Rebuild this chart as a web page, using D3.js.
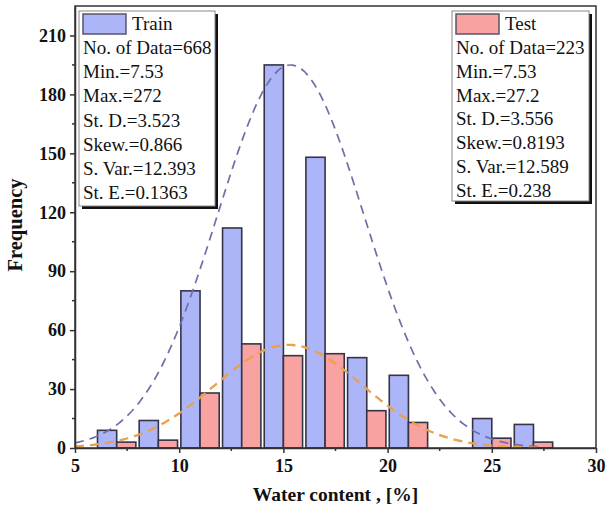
<!DOCTYPE html>
<html>
<head>
<meta charset="utf-8">
<script src="https://cdn.jsdelivr.net/npm/d3@7"></script>
<style>
  html, body { margin: 0; padding: 0; background: #fff; }
  svg { display: block; font-family: "Liberation Serif", "Times New Roman", serif; }
</style>
</head>
<body>
<svg id="chart" width="606" height="517"></svg>
<script>
// Histogram bins: centre of each 2 %-wide water-content bin
const binCenters = [7, 9, 11, 13, 15, 17, 19, 21, 23, 25, 27];
// Counts per bin
const trainCounts = [9, 14, 80, 112, 195, 148, 46, 37, 0, 15, 12];
const testCounts  = [3, 4, 28, 53, 47, 48, 19, 13, 0, 5, 3];

// Fitted normal curves (mean, standard deviation, peak height, x-range)
const trainFit = { mean: 15.35, sd: 3.523, peak: 195, from: 5, to: 27.2 };
const testFit  = { mean: 15.25, sd: 3.556, peak: 52.5, from: 5, to: 27.2 };

// Axis ticks
const xTicks = [5, 10, 15, 20, 25, 30];
const yTicks = [0, 30, 60, 90, 120, 150, 180, 210];

// Statistics boxes
const trainStats = ["No. of Data=668", "Min.=7.53", "Max.=272", "St. D.=3.523",
                    "Skew.=0.866", "S. Var.=12.393", "St. E.=0.1363"];
const testStats  = ["No. of Data=223", "Min.=7.53", "Max.=27.2", "St. D.=3.556",
                    "Skew.=0.8193", "S. Var.=12.589", "St. E.=0.238"];

const svg = d3.select("#chart");
const plotL = 75, plotR = 596, plotT = 6, plotB = 448;

const x = d3.scaleLinear().domain([5, 30]).range([plotL, plotR]);
const y = d3.scaleLinear().domain([0, 225]).range([plotB, plotT]);

const barW = 0.92;
const colors = {
  trainFill: "#acb5f8", testFill: "#f9a2a2", barStroke: "#343446",
  trainCurve: "#6c70a8", testCurve: "#eba04c", axis: "#333"
};

// Bars
const bars = svg.append("g");
binCenters.forEach((c, i) => {
  if (trainCounts[i] > 0) {
    bars.append("rect")
      .attr("x", x(c - barW)).attr("width", x(c) - x(c - barW))
      .attr("y", y(trainCounts[i])).attr("height", y(0) - y(trainCounts[i]))
      .attr("fill", colors.trainFill).attr("stroke", colors.barStroke).attr("stroke-width", 1.6);
  }
  if (testCounts[i] > 0) {
    bars.append("rect")
      .attr("x", x(c)).attr("width", x(c + barW) - x(c))
      .attr("y", y(testCounts[i])).attr("height", y(0) - y(testCounts[i]))
      .attr("fill", colors.testFill).attr("stroke", colors.barStroke).attr("stroke-width", 1.6);
  }
});

// Normal curves
function curvePoints(f) {
  const pts = [];
  const n = 200;
  for (let k = 0; k <= n; k++) {
    const v = f.from + (f.to - f.from) * k / n;
    pts.push([v, f.peak * Math.exp(-((v - f.mean) ** 2) / (2 * f.sd * f.sd))]);
  }
  return pts;
}
const line = d3.line().x(d => x(d[0])).y(d => y(d[1])).curve(d3.curveBasis);
svg.append("path").datum(curvePoints(trainFit)).attr("d", line)
  .attr("fill", "none").attr("stroke", colors.trainCurve).attr("stroke-width", 1.7)
  .attr("stroke-dasharray", "9,6");
svg.append("path").datum(curvePoints(testFit)).attr("d", line)
  .attr("fill", "none").attr("stroke", colors.testCurve).attr("stroke-width", 2.3)
  .attr("stroke-dasharray", "9,6");

// Frame
svg.append("rect").attr("x", plotL).attr("y", plotT)
  .attr("width", plotR - plotL).attr("height", plotB - plotT)
  .attr("fill", "none").attr("stroke", colors.axis).attr("stroke-width", 1.5);

// X axis
const xAxis = d3.axisBottom(x).tickValues(xTicks).tickSize(5).tickSizeOuter(0).tickPadding(6);
const gx = svg.append("g").attr("transform", `translate(0,${plotB})`).call(xAxis);
const xMinor = d3.range(7.5, 30, 5);
gx.selectAll(".minor").data(xMinor).enter().append("line")
  .attr("x1", d => x(d)).attr("x2", d => x(d)).attr("y1", 0).attr("y2", 3)
  .attr("stroke", colors.axis).attr("stroke-width", 1.5);

// Y axis
const yAxis = d3.axisLeft(y).tickValues(yTicks).tickSize(5).tickSizeOuter(0).tickPadding(4);
const gy = svg.append("g").attr("transform", `translate(${plotL},0)`).call(yAxis);
const yMinor = d3.range(15, 225, 30);
gy.selectAll(".minor").data(yMinor).enter().append("line")
  .attr("y1", d => y(d)).attr("y2", d => y(d)).attr("x1", 0).attr("x2", -3)
  .attr("stroke", colors.axis).attr("stroke-width", 1.5);

[gx, gy].forEach(g => {
  g.select(".domain").attr("stroke", colors.axis).attr("stroke-width", 1.5);
  g.selectAll(".tick line").attr("stroke", colors.axis).attr("stroke-width", 1.5);
  g.selectAll(".tick text")
    .attr("font-family", "Liberation Serif, serif")
    .attr("font-size", 18).attr("font-weight", "bold").attr("fill", "#111");
});

// Axis titles
svg.append("text").attr("x", (plotL + plotR) / 2).attr("y", 501)
  .attr("text-anchor", "middle").attr("font-size", 19.5).attr("font-weight", "bold")
  .attr("fill", "#111").text("Water content , [%]");
svg.append("text").attr("transform", `translate(22,${(plotT + plotB) / 2 - 2}) rotate(-90)`)
  .attr("text-anchor", "middle").attr("font-size", 20.5).attr("font-weight", "bold")
  .attr("fill", "#111").text("Frequency");

// Statistics boxes
function statsBox(bx, by, bw, bh, lineGap, label, fill, lines) {
  const g = svg.append("g");
  g.append("rect").attr("x", bx + 3).attr("y", by + 3).attr("width", bw).attr("height", bh)
    .attr("fill", "#111");
  g.append("rect").attr("x", bx).attr("y", by).attr("width", bw).attr("height", bh)
    .attr("fill", "#fff").attr("stroke", "#888").attr("stroke-width", 1);
  g.append("rect").attr("x", bx + 4).attr("y", by + 3).attr("width", 43).attr("height", 20)
    .attr("fill", fill).attr("stroke", "#55566a").attr("stroke-width", 1.5);
  g.append("text").attr("x", bx + 53).attr("y", by + 19).attr("font-size", 19)
    .attr("fill", "#111").text(label);
  g.selectAll(".stat").data(lines).enter().append("text")
    .attr("x", bx + 4).attr("y", (d, i) => by + 43 + i * lineGap)
    .attr("font-size", 19).attr("fill", "#111").text(d => d);
}
statsBox(79, 11, 136, 195, 24.2, "Train", colors.trainFill, trainStats);
statsBox(452, 11, 137, 190, 23.8, "Test", colors.testFill, testStats);
</script>
</body>
</html>
